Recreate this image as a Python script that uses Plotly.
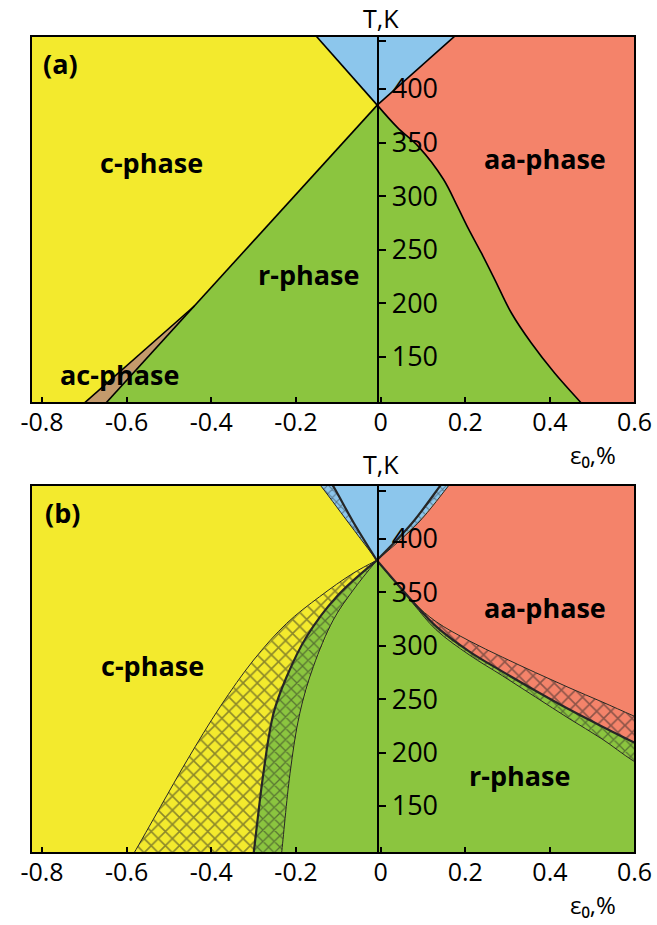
import plotly.graph_objects as go

# ---------------- colours ----------------
YELLOW = "#F3EA2D"
GREEN = "#8BC53F"
SALMON = "#F4836A"
BLUE = "#8CC6EC"
TAN = "#C49A6C"
LINE = "#000000"
HATCH = "#262626"

# ---------------- axes ----------------
X_TICKS = [-0.8, -0.6, -0.4, -0.2, 0.0, 0.2, 0.4, 0.6]
X_TICK_TEXT = ["-0.8", "-0.6", "-0.4", "-0.2", "0", "0.2", "0.4", "0.6"]
Y_TICKS = [150, 200, 250, 300, 350, 400]
Y_TICK_TEXT = ["150", "200", "250", "300", "350", "400"]
Y_MINOR = [445]
X_RANGE = [-0.826, 0.601]
Y_RANGE_A = [107, 449.5]
Y_RANGE_B = [106, 450.5]

# ---------------- panel (a) boundaries (eps %, T K) ----------------
a_cr_eps = [-0.008, -0.665]            # c / r boundary
a_cr_T = [385, 100]
a_ac_eps = [-0.44, -0.72]              # c / ac boundary
a_ac_T = [197.5, 100]
a_blue_l_eps = [-0.008, -0.167]        # c / blue boundary
a_blue_l_T = [385, 456]
a_blue_r_eps = [-0.008, 0.194]         # blue / aa boundary
a_blue_r_T = [385, 456]
a_raa_eps = [-0.008, 0.04, 0.09, 0.148, 0.182, 0.207, 0.238, 0.27, 0.309, 0.356, 0.411, 0.474, 0.49]
a_raa_T = [385, 364, 346, 316, 290, 270, 247, 222, 191, 163, 135, 107, 100]

# ---------------- panel (b) boundaries ----------------
b_Lout_eps = [-0.009, -0.065, -0.144, -0.222, -0.300, -0.379, -0.457, -0.52, -0.583, -0.592]
b_Lout_T = [380, 367.9, 346, 321, 286.7, 243, 193, 149.4, 105.7, 100]
b_Lthk_eps = [-0.009, -0.104, -0.175, -0.222, -0.253, -0.277, -0.300, -0.302]
b_Lthk_T = [380, 346, 308.5, 271, 236.8, 180.6, 105.7, 100]
b_Lin_eps = [-0.009, -0.065, -0.112, -0.159, -0.191, -0.214, -0.234, -0.236]
b_Lin_T = [380, 352, 324, 280.4, 236.8, 180.6, 105.7, 100]

b_Rup_eps = [-0.009, 0.076, 0.131, 0.209, 0.288, 0.366, 0.445, 0.523, 0.594, 0.63]
b_Rup_T = [380, 341.3, 322.6, 304.7, 289.3, 274.9, 260.8, 247.5, 235, 229]
b_Rthk_eps = [-0.009, 0.076, 0.131, 0.209, 0.288, 0.366, 0.445, 0.523, 0.594, 0.63]
b_Rthk_T = [380, 341.3, 318.2, 294.8, 275.8, 257.9, 240.5, 224.5, 210.5, 204]
b_Rlow_eps = [-0.009, 0.076, 0.131, 0.209, 0.288, 0.366, 0.445, 0.523, 0.594, 0.63]
b_Rlow_T = [380, 339.8, 315, 291.6, 271.9, 252, 231.9, 212.8, 193, 185]

b_BLout_eps = [-0.009, -0.075, -0.146, -0.16]
b_BLin_eps = [-0.009, -0.063, -0.116, -0.128]
b_BRin_eps = [-0.009, 0.074, 0.145, 0.157]
b_BRout_eps = [-0.009, 0.088, 0.165, 0.178]
b_B_T = [380, 414.7, 452, 458]

# polygon closure beyond the plotted range
E_HI = 0.7
T_LO = 95
T_HI = 460

fig = go.Figure()


def poly(xs, ys, color, xa, ya, pattern=None, psize=10):
    kw = {}
    if pattern:
        kw["fillpattern"] = dict(shape="x", bgcolor=color, fgcolor=HATCH,
                                 size=psize, solidity=0.3)
    fig.add_trace(go.Scatter(x=xs, y=ys, mode="none", fill="toself",
                             fillcolor=color, xaxis=xa, yaxis=ya,
                             hoverinfo="skip", showlegend=False, **kw))


def line(xs, ys, xa, ya, width=1.5, color=LINE):
    fig.add_trace(go.Scatter(x=xs, y=ys, mode="lines",
                             line=dict(color=color, width=width,
                                       shape="spline", smoothing=1.0),
                             xaxis=xa, yaxis=ya, hoverinfo="skip",
                             showlegend=False))


# ---- panel (a) ----
poly(a_cr_eps + a_raa_eps[::-1], a_cr_T + a_raa_T[::-1], GREEN, "x", "y")
poly(a_blue_r_eps + [E_HI, E_HI] + a_raa_eps[::-1],
     a_blue_r_T + [T_HI, T_LO] + a_raa_T[::-1], SALMON, "x", "y")
poly(a_blue_l_eps + a_blue_r_eps[::-1], a_blue_l_T + a_blue_r_T[::-1], BLUE, "x", "y")
poly(a_ac_eps + [a_cr_eps[-1]], a_ac_T + [a_cr_T[-1]], TAN, "x", "y")
for xs, ys in [(a_cr_eps, a_cr_T), (a_ac_eps, a_ac_T), (a_blue_l_eps, a_blue_l_T),
               (a_blue_r_eps, a_blue_r_T), (a_raa_eps, a_raa_T)]:
    line(xs, ys, "x", "y", 1.6)

# ---- panel (b) ----
poly(b_Lout_eps + b_Lthk_eps[::-1], b_Lout_T + b_Lthk_T[::-1], YELLOW, "x2", "y2", True, 10)
poly(b_Lthk_eps + b_Lin_eps[::-1], b_Lthk_T + b_Lin_T[::-1], GREEN, "x2", "y2", True, 8)
poly(b_Lin_eps + [E_HI] + b_Rlow_eps[::-1], b_Lin_T + [T_LO] + b_Rlow_T[::-1], GREEN, "x2", "y2")
poly(b_Rlow_eps + b_Rthk_eps[::-1], b_Rlow_T + b_Rthk_T[::-1], GREEN, "x2", "y2", True, 8)
poly(b_Rthk_eps + b_Rup_eps[::-1], b_Rthk_T + b_Rup_T[::-1], SALMON, "x2", "y2", True, 10)
poly(b_Rup_eps + [E_HI] + b_BRout_eps[::-1], b_Rup_T + [T_HI] + b_B_T[::-1], SALMON, "x2", "y2")
poly(b_BLin_eps + b_BRin_eps[::-1], b_B_T + b_B_T[::-1], BLUE, "x2", "y2")
poly(b_BLout_eps + b_BLin_eps[::-1], b_B_T + b_B_T[::-1], BLUE, "x2", "y2", True, 6)
poly(b_BRin_eps + b_BRout_eps[::-1], b_B_T + b_B_T[::-1], BLUE, "x2", "y2", True, 6)

for xs, ys in [(b_Lout_eps, b_Lout_T), (b_Lin_eps, b_Lin_T), (b_Rup_eps, b_Rup_T),
               (b_Rlow_eps, b_Rlow_T), (b_BLout_eps, b_B_T), (b_BRout_eps, b_B_T)]:
    line(xs, ys, "x2", "y2", 1.0, HATCH)
for xs, ys in [(b_Lthk_eps, b_Lthk_T), (b_Rthk_eps, b_Rthk_T),
               (b_BLin_eps, b_B_T), (b_BRin_eps, b_B_T)]:
    line(xs, ys, "x2", "y2", 2.2, HATCH)

FONT = "Open Sans"

xcommon = dict(range=X_RANGE, tickvals=X_TICKS, ticktext=X_TICK_TEXT,
               ticks="inside", ticklen=6, tickwidth=2, tickcolor="black",
               showline=False, showgrid=False, zeroline=False, automargin=False,
               tickfont=dict(family=FONT, size=25, color="black"),
               ticklabelstandoff=2, domain=[0, 1])
ycommon = dict(tickvals=Y_TICKS, ticktext=Y_TICK_TEXT, anchor="free",
               position=0.575, side="right", ticks="outside", ticklen=7,
               tickwidth=2, tickcolor="black", showline=True, linewidth=2,
               linecolor="black", showgrid=False, zeroline=False, automargin=False,
               minor=dict(tickvals=Y_MINOR, ticks="outside", ticklen=7,
                          tickwidth=2, tickcolor="black", showgrid=False),
               tickfont=dict(family=FONT, size=27, color="black"))

fig.update_layout(
    width=657, height=925,
    margin=dict(l=31, r=22, t=36, b=72, autoexpand=False),
    plot_bgcolor=YELLOW, paper_bgcolor="white",
    xaxis=dict(anchor="y", **xcommon),
    yaxis=dict(domain=[0.5508, 1], range=Y_RANGE_A, **ycommon),
    xaxis2=dict(anchor="y2", **xcommon),
    yaxis2=dict(domain=[0, 0.4504], range=Y_RANGE_B, **ycommon),
    shapes=[
        dict(type="rect", xref="x domain", yref="y domain", x0=0, x1=1, y0=0, y1=1,
             line=dict(color="black", width=2), layer="above"),
        dict(type="rect", xref="x2 domain", yref="y2 domain", x0=0, x1=1, y0=0, y1=1,
             line=dict(color="black", width=2), layer="above"),
    ],
)

bold = dict(family=FONT, size=27, color="black", weight="bold")
labels = [
    ("(a)", -0.756, 424, "x", "y"),
    ("c-phase", -0.541, 331, "x", "y"),
    ("aa-phase", 0.388, 335.6, "x", "y"),
    ("r-phase", -0.171, 226.5, "x", "y"),
    ("ac-phase", -0.617, 133.2, "x", "y"),
    ("(b)", -0.751, 425, "x2", "y2"),
    ("c-phase", -0.539, 282, "x2", "y2"),
    ("aa-phase", 0.388, 336.3, "x2", "y2"),
    ("r-phase", 0.327, 179, "x2", "y2"),
]
for txt, xv, yv, xr, yr in labels:
    fig.add_annotation(text=txt, x=xv, y=yv, xref=xr, yref=yr, showarrow=False,
                       font=bold, xanchor="center", yanchor="middle")

reg = dict(family=FONT, size=25, color="black")
for yv in [1.022, 0.4761]:
    fig.add_annotation(text="T,K", x=0.5795, y=yv, xref="paper", yref="paper",
                       showarrow=False, font=reg, xanchor="center", yanchor="middle",
                       borderpad=0)
for yv in [0.4872, -0.0636]:
    fig.add_annotation(text="ε₀,%", x=0.9305, y=yv, xref="paper", yref="paper",
                       showarrow=False, font=dict(family=FONT, size=24, color="black"),
                       xanchor="center", yanchor="middle")

fig.write_html("out.html")
